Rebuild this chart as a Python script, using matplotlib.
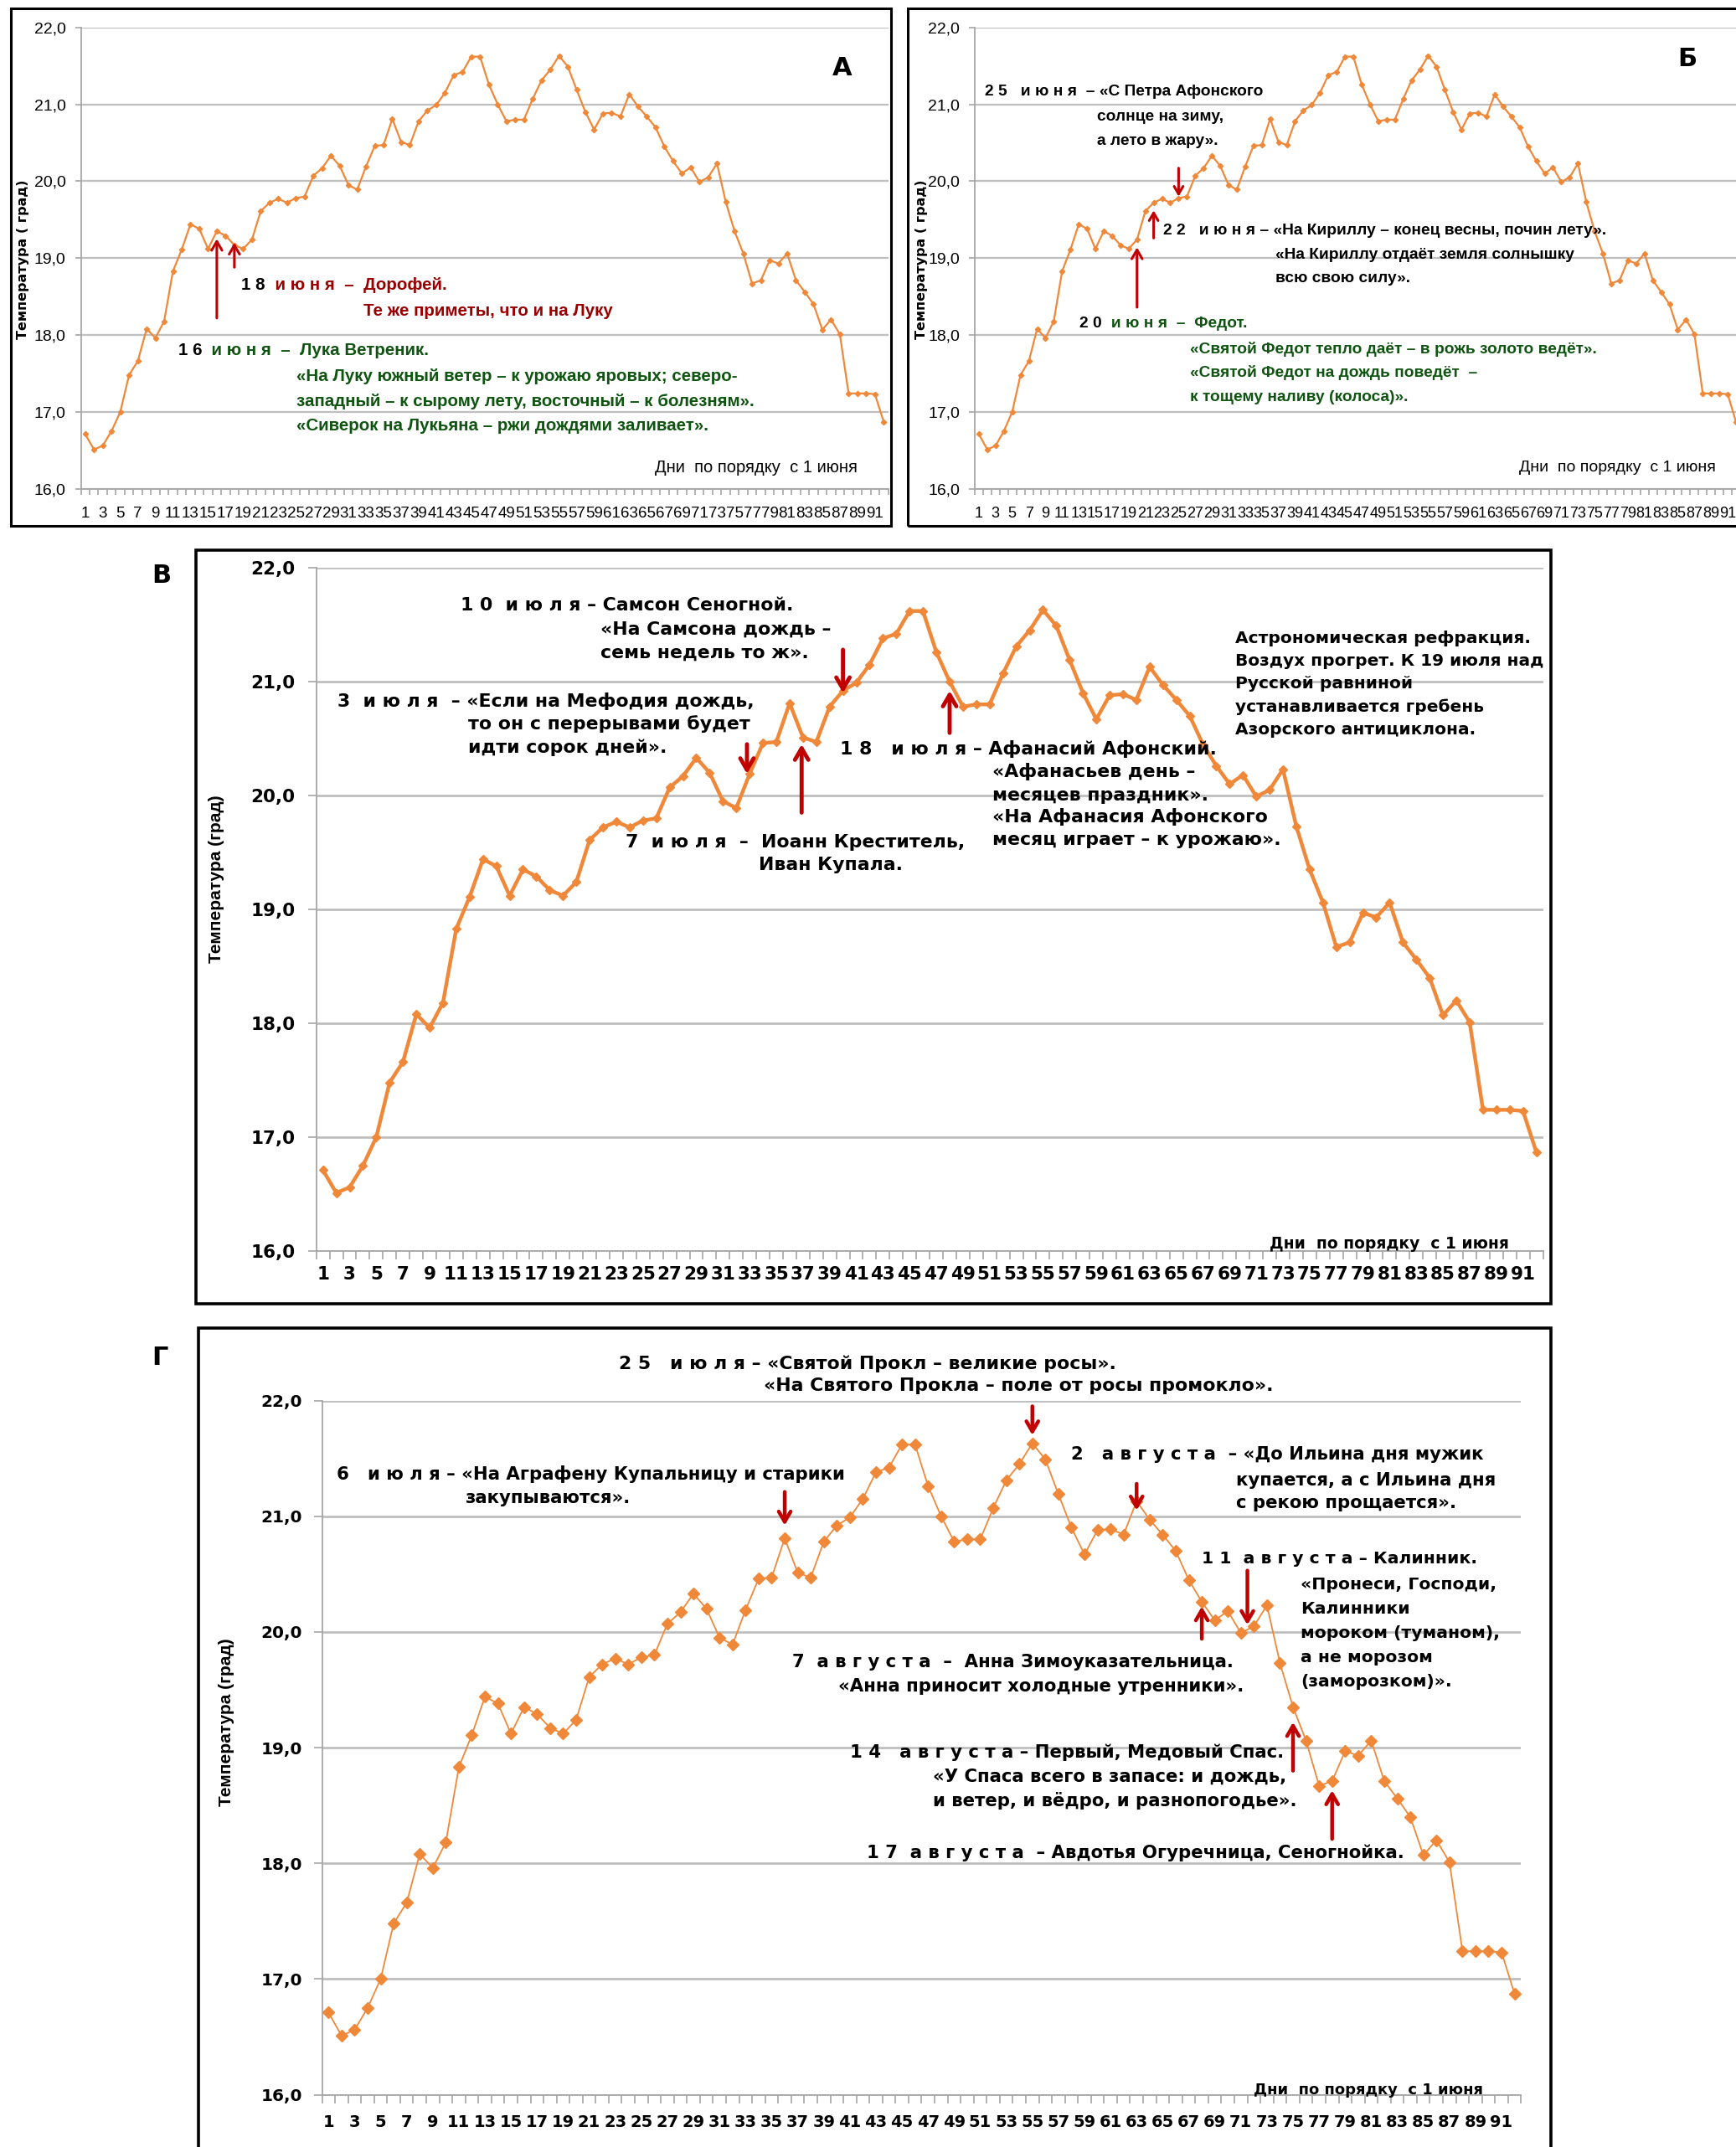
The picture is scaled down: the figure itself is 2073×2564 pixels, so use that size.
import numpy as np
import matplotlib
matplotlib.use('Agg')
import matplotlib.pyplot as plt
from matplotlib.patches import Rectangle

# Средняя температура воздуха по дням, начиная с 1 июня
days = np.arange(1, 93)
temp = [16.71, 16.51, 16.56, 16.75, 17.00, 17.48, 17.66, 18.08, 17.96, 18.18,
        18.83, 19.11, 19.44, 19.38, 19.12, 19.35, 19.29, 19.17, 19.12, 19.24,
        19.61, 19.72, 19.77, 19.72, 19.78, 19.80, 20.07, 20.17, 20.33, 20.20,
        19.95, 19.89, 20.19, 20.46, 20.47, 20.81, 20.51, 20.47, 20.78, 20.92,
        20.99, 21.15, 21.38, 21.42, 21.62, 21.62, 21.26, 21.00, 20.78, 20.80,
        20.80, 21.07, 21.31, 21.45, 21.63, 21.49, 21.19, 20.90, 20.67, 20.88,
        20.89, 20.84, 21.13, 20.97, 20.84, 20.70, 20.45, 20.26, 20.10, 20.18,
        19.99, 20.05, 20.23, 19.73, 19.35, 19.06, 18.67, 18.71, 18.97, 18.93,
        19.06, 18.71, 18.56, 18.40, 18.07, 18.20, 18.01, 17.24, 17.24, 17.24,
        17.23, 16.87]
yticks = [16, 17, 18, 19, 20, 21, 22]
ytick_labels = ['16,0', '17,0', '18,0', '19,0', '20,0', '21,0', '22,0']
xtick_days = days[::2]

ORANGE = '#F0883A'
RED = '#C00000'
DARKRED = '#980000'
GREEN = '#0F5410'
GRID = '#BFBFBF'
AXIS = '#A6A6A6'

NARROW = dict(family='Liberation Sans')
WIDE = dict(family='DejaVu Sans', weight='bold')

W, H = 2073, 2564
fig = plt.figure(figsize=(W / 100, H / 100), dpi=100)


def fx(x):
    return x / W


def fy(y):
    return 1 - y / H


def frame(x0, y0, x1, y1, lw):
    fig.patches.append(Rectangle((fx(x0), fy(y1)), fx(x1) - fx(x0), fy(y0) - fy(y1),
                                 transform=fig.transFigure, fill=False, ec='black', lw=lw))


def panel(left, top, right, bottom, lw, ms, grid_lw, tick_font, xsize, ysize, xpad, ypad, ticklen):
    ax = fig.add_axes([fx(left), fy(bottom), fx(right) - fx(left), fy(top) - fy(bottom)])
    ax.patch.set_alpha(0)
    ax.plot(days, temp, color=ORANGE, lw=lw, marker='D', ms=ms, mec=ORANGE, mfc=ORANGE, zorder=3)
    ax.set_xlim(0.5, 92.5)
    ax.set_ylim(16, 22)
    ax.set_yticks(yticks)
    ax.set_yticklabels(ytick_labels, fontsize=ysize, **tick_font)
    ax.set_xticks(xtick_days)
    ax.set_xticklabels([str(d) for d in xtick_days], fontsize=xsize, **tick_font)
    ax.set_xticks(np.arange(0.5, 93, 1), minor=True)
    ax.tick_params(axis='x', which='major', length=0, pad=xpad)
    ax.tick_params(axis='x', which='minor', length=ticklen, width=1.2, color=AXIS)
    ax.tick_params(axis='y', length=ticklen, width=1.2, color=AXIS, pad=ypad)
    ax.grid(axis='y', color=GRID, lw=grid_lw, zorder=0)
    for s in ['top', 'right']:
        ax.spines[s].set_visible(False)
    for s in ['left', 'bottom']:
        ax.spines[s].set_color(AXIS)
        ax.spines[s].set_linewidth(1.3)
    return ax


def arrow(ax, day, t0, t1, lw, scale):
    ax.annotate('', xy=(day, t1), xytext=(day, t0),
                arrowprops=dict(arrowstyle='->,head_length=0.55,head_width=0.32', color=RED,
                                lw=lw, shrinkA=0, shrinkB=0, mutation_scale=scale), zorder=5)


def two_color(ax, x, y, first, rest, color, size, font):
    t = ax.text(x, y, first, color='black', fontsize=size, va='center', **font)
    ax.annotate(rest, xy=(1, y), xycoords=(t, 'data'), va='center', ha='left',
                color=color, fontsize=size, **font)


nb = dict(NARROW, weight='bold')

# ---------- Панель А ----------
fa = 14.8
frame(13, 10, 1064, 628, 2.2)
axA = panel(96.5, 32.7, 1060.5, 583.7, 1.6, 3.2, 1.6, NARROW, 13.5, 14, 15, 8, 5)
axA.text(87.3, 21.47, 'А', fontsize=22, ha='center', va='center', **WIDE)
arrow(axA, 16, 18.22, 19.25, 2.2, 14)
arrow(axA, 18, 18.88, 19.2, 2.2, 14)
two_color(axA, 18.8, 18.65, '1 8', '  и ю н я  –  Дорофей.', DARKRED, fa, nb)
axA.text(32.7, 18.31, 'Те же приметы, что и на Луку', color=DARKRED, fontsize=fa, va='center', **nb)
two_color(axA, 11.6, 17.80, '1 6', '  и ю н я  –  Лука Ветреник.', GREEN, fa, nb)
axA.text(25.1, 17.46, '«На Луку южный ветер – к урожаю яровых; северо-', color=GREEN, fontsize=fa, va='center', **nb)
axA.text(25.1, 17.14, 'западный – к сырому лету, восточный – к болезням».', color=GREEN, fontsize=fa, va='center', **nb)
axA.text(25.1, 16.82, '«Сиверок на Лукьяна – ржи дождями заливает».', color=GREEN, fontsize=fa, va='center', **nb)
axA.text(65.9, 16.27, 'Дни  по порядку  с 1 июня', fontsize=14.5, va='center', **NARROW)
fig.text(fx(28), fy(310), 'Температура ( град)', rotation=90, ha='center', va='center', fontsize=11.5, **WIDE)

# ---------- Панель Б ----------
fb = 13.8
frame(1084, 10, 2090, 628, 2.2)
axB = panel(1164, 32.7, 2078, 583.7, 1.6, 3.2, 1.6, NARROW, 13, 14, 15, 8, 5)
axB.text(86.1, 21.59, 'Б', fontsize=22, ha='center', va='center', **WIDE)
arrow(axB, 25, 20.17, 19.8, 2.2, 12)
arrow(axB, 22, 19.26, 19.62, 2.2, 12)
arrow(axB, 20, 18.36, 19.14, 2.2, 14)
axB.text(1.7, 21.16, '2 5   и ю н я  – «С Петра Афонского', fontsize=fb, va='center', **nb)
axB.text(15.2, 20.84, 'солнце на зиму,', fontsize=fb, va='center', **nb)
axB.text(15.2, 20.52, 'а лето в жару».', fontsize=fb, va='center', **nb)
axB.text(23.1, 19.36, '2 2   и ю н я – «На Кириллу – конец весны, почин лету».', fontsize=fb, va='center', **nb)
axB.text(36.6, 19.04, '«На Кириллу отдаёт земля солнышку', fontsize=fb, va='center', **nb)
axB.text(36.6, 18.74, 'всю свою силу».', fontsize=fb, va='center', **nb)
two_color(axB, 13.1, 18.15, '2 0', '  и ю н я  –  Федот.', GREEN, fb, nb)
axB.text(26.4, 17.82, '«Святой Федот тепло даёт – в рожь золото ведёт».', color=GREEN, fontsize=fb, va='center', **nb)
axB.text(26.4, 17.51, '«Святой Федот на дождь поведёт  –', color=GREEN, fontsize=fb, va='center', **nb)
axB.text(26.4, 17.19, 'к тощему наливу (колоса)».', color=GREEN, fontsize=fb, va='center', **nb)
axB.text(65.9, 16.27, 'Дни  по порядку  с 1 июня', fontsize=14, va='center', **NARROW)
fig.text(fx(1100), fy(310), 'Температура ( град)', rotation=90, ha='center', va='center', fontsize=11.5, **WIDE)

# ---------- Панель В ----------
frame(234, 657, 1852, 1557, 2.6)
fig.text(fx(193), fy(687), 'В', fontsize=22, ha='center', va='center', **WIDE)
axC = panel(377.7, 678, 1842.5, 1494, 3.2, 4.8, 2.0, WIDE, 15.5, 15.5, 13, 11, 7)
fs = 15.8
axC.text(11.3, 21.67, '1 0  и ю л я – Самсон Сеногной.', fontsize=fs, va='center', **WIDE)
axC.text(21.8, 21.46, '«На Самсона дождь –', fontsize=fs, va='center', **WIDE)
axC.text(21.8, 21.25, 'семь недель то ж».', fontsize=fs, va='center', **WIDE)
axC.text(2.1, 20.83, '3  и ю л я  – «Если на Мефодия дождь,', fontsize=fs, va='center', **WIDE)
axC.text(11.9, 20.63, 'то он с перерывами будет', fontsize=fs, va='center', **WIDE)
axC.text(11.9, 20.42, 'идти сорок дней».', fontsize=fs, va='center', **WIDE)
axC.text(39.8, 20.41, '1 8   и ю л я – Афанасий Афонский.', fontsize=fs, va='center', **WIDE)
axC.text(51.2, 20.21, '«Афанасьев день –', fontsize=fs, va='center', **WIDE)
axC.text(51.2, 20.00, 'месяцев праздник».', fontsize=fs, va='center', **WIDE)
axC.text(51.2, 19.81, '«На Афанасия Афонского', fontsize=fs, va='center', **WIDE)
axC.text(51.2, 19.61, 'месяц играет – к урожаю».', fontsize=fs, va='center', **WIDE)
axC.text(23.7, 19.59, '7  и ю л я  –  Иоанн Креститель,', fontsize=fs, va='center', **WIDE)
axC.text(33.7, 19.39, 'Иван Купала.', fontsize=fs, va='center', **WIDE)
for i, line in enumerate(['Астрономическая рефракция.', 'Воздух прогрет. К 19 июля над',
                          'Русской равниной', 'устанавливается гребень', 'Азорского антициклона.']):
    axC.text(69.4, 21.38 - 0.2 * i, line, fontsize=14.5, va='center', **WIDE)
axC.text(72, 16.06, 'Дни  по порядку  с 1 июня', fontsize=13.5, va='center', **WIDE)
arrow(axC, 40, 21.28, 20.90, 3.5, 18)
arrow(axC, 32.8, 20.45, 20.19, 3.5, 18)
arrow(axC, 36.9, 19.85, 20.45, 3.5, 18)
arrow(axC, 48, 20.55, 20.92, 3.5, 18)
fig.text(fx(258), fy(1050), 'Температура (град)', rotation=90, ha='center', va='center',
         fontsize=15, family='Liberation Sans', weight='bold')

# ---------- Панель Г ----------
frame(237, 1586, 1852, 2590, 2.6)
fig.text(fx(191), fy(1622), 'Г', fontsize=22, ha='center', va='center', **WIDE)
axD = panel(384.5, 1672.5, 1816.4, 2501.5, 1.3, 7, 2.0, WIDE, 14, 14.5, 17, 10, 7)
fs = 15.3
axD.text(23.3, 22.32, '2 5   и ю л я – «Святой Прокл – великие росы».', fontsize=15.8, va='center', **WIDE)
axD.text(34.4, 22.13, '«На Святого Прокла – поле от росы промокло».', fontsize=15.8, va='center', **WIDE)
axD.text(1.6, 21.36, '6   и ю л я – «На Аграфену Купальницу и старики', fontsize=fs, va='center', **WIDE)
axD.text(11.5, 21.16, 'закупываются».', fontsize=fs, va='center', **WIDE)
axD.text(58.0, 21.53, '2   а в г у с т а  – «До Ильина дня мужик', fontsize=fs, va='center', **WIDE)
axD.text(70.6, 21.31, 'купается, а с Ильина дня', fontsize=fs, va='center', **WIDE)
axD.text(70.6, 21.11, 'с рекою прощается».', fontsize=fs, va='center', **WIDE)
axD.text(68.0, 20.63, '1 1  а в г у с т а – Калинник.', fontsize=14.7, va='center', **WIDE)
for i, line in enumerate(['«Пронеси, Господи,', 'Калинники', 'мороком (туманом),',
                          'а не морозом', '(заморозком)».']):
    axD.text(75.6, 20.41 - 0.21 * i, line, fontsize=14.7, va='center', **WIDE)
axD.text(36.6, 19.74, '7  а в г у с т а  –  Анна Зимоуказательница.', fontsize=fs, va='center', **WIDE)
axD.text(40.1, 19.53, '«Анна приносит холодные утренники».', fontsize=fs, va='center', **WIDE)
axD.text(41.0, 18.96, '1 4   а в г у с т а – Первый, Медовый Спас.', fontsize=fs, va='center', **WIDE)
axD.text(47.4, 18.75, '«У Спаса всего в запасе: и дождь,', fontsize=fs, va='center', **WIDE)
axD.text(47.4, 18.54, 'и ветер, и вёдро, и разнопогодье».', fontsize=fs, va='center', **WIDE)
axD.text(42.3, 18.09, '1 7  а в г у с т а  – Авдотья Огуречница, Сеногнойка.', fontsize=fs, va='center', **WIDE)
axD.text(72, 16.04, 'Дни  по порядку  с 1 июня', fontsize=13, va='center', **WIDE)
arrow(axD, 55, 21.95, 21.70, 3.2, 16)
arrow(axD, 36, 21.21, 20.92, 3.2, 16)
arrow(axD, 63, 21.28, 21.05, 3.2, 16)
arrow(axD, 71.5, 20.53, 20.06, 3.2, 16)
arrow(axD, 68, 19.94, 20.22, 3.2, 16)
arrow(axD, 75, 18.80, 19.22, 3.2, 16)
arrow(axD, 78, 18.21, 18.63, 3.2, 16)
fig.text(fx(270), fy(2057), 'Температура (град)', rotation=90, ha='center', va='center',
         fontsize=15, family='Liberation Sans', weight='bold')

fig.savefig('out.png', dpi=100, facecolor='white')
